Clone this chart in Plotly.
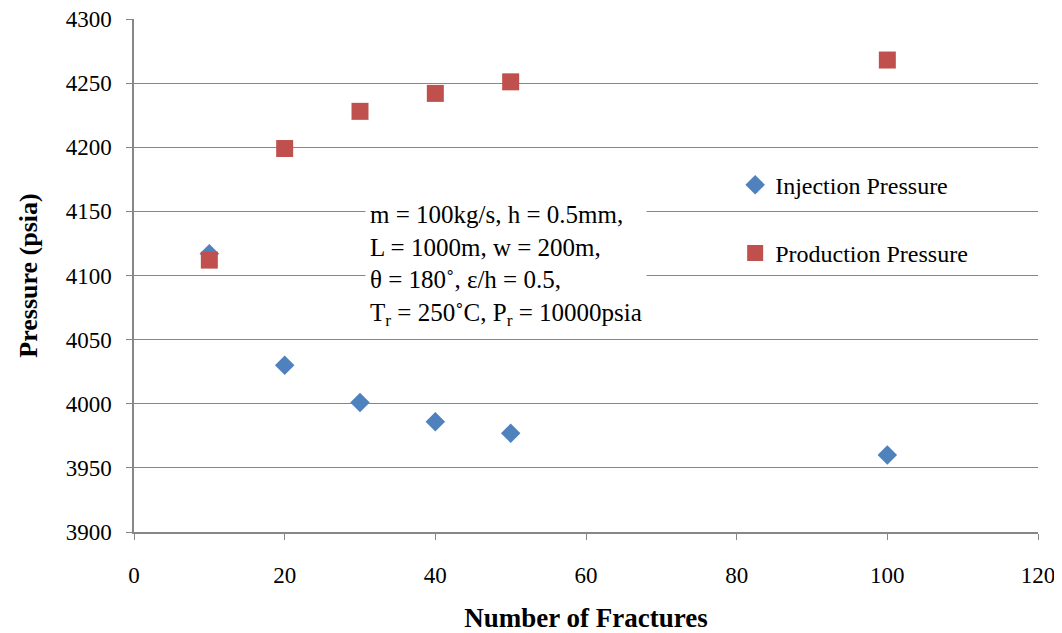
import plotly.graph_objects as go

fractures = [10, 20, 30, 40, 50, 100]
injection_pressure = [4117, 4030, 4001, 3986, 3977, 3960]
production_pressure = [4112, 4199, 4228, 4242, 4251, 4268]

x_ticks = [0, 20, 40, 60, 80, 100, 120]
y_ticks = [3900, 3950, 4000, 4050, 4100, 4150, 4200, 4250, 4300]

FONT = "Liberation Serif"
GRAY = "#878787"

fig = go.Figure()
fig.add_trace(go.Scatter(
    x=fractures, y=injection_pressure, mode="markers", name="Injection Pressure",
    legendgroup="a",
    marker=dict(symbol="diamond", size=15, color="#4F81BD", line=dict(width=0)),
))
fig.add_trace(go.Scatter(
    x=fractures, y=production_pressure, mode="markers", name="Production Pressure",
    legendgroup="b",
    marker=dict(symbol="square", size=17, color="#C0504D", line=dict(width=0)),
))

fig.add_annotation(
    x=0.255, y=0.655, xref="paper", yref="paper", xanchor="left", yanchor="top",
    align="left", showarrow=False, bgcolor="white", borderpad=4,
    text=("m = 100kg/s, h = 0.5mm,<br>L = 1000m, w = 200m,<br>"
          "θ = 180˚, ε/h = 0.5,<br>T<sub>r</sub> = 250˚C, P<sub>r</sub> = 10000psia"),
    font=dict(family=FONT, size=25, color="black"),
)

# page body has an 8px margin; figure is sized/offset to compensate
fig.update_layout(
    width=1054, height=625,
    margin=dict(l=126, r=24, t=11, b=101),
    paper_bgcolor="white", plot_bgcolor="white",
    font=dict(family=FONT, color="black"),
    showlegend=True,
    legend=dict(x=0.665, y=0.72, xanchor="left", yanchor="top",
                font=dict(family=FONT, size=24, color="black"),
                tracegroupgap=34, bgcolor="rgba(0,0,0,0)"),
    xaxis=dict(range=[0, 120], tickvals=x_ticks, showgrid=False, zeroline=False,
               showline=True, linecolor=GRAY, linewidth=1.5, automargin=False,
               ticks="outside", tickcolor=GRAY, ticklen=6, ticklabelstandoff=16,
               ticklabeloverflow="allow",
               tickfont=dict(family=FONT, size=23),
               title=dict(text="<b>Number of Fractures</b>", font=dict(family=FONT, size=27), standoff=27)),
    yaxis=dict(range=[3900, 4300], tickvals=y_ticks, showgrid=True, gridcolor=GRAY, gridwidth=1,
               zeroline=False, showline=True, linecolor=GRAY, linewidth=1.5, automargin=False,
               ticks="outside", tickcolor=GRAY, ticklen=6, ticklabelstandoff=10,
               ticklabeloverflow="allow",
               tickfont=dict(family=FONT, size=23),
               title=dict(text="<b>Pressure (psia)</b>", font=dict(family=FONT, size=26), standoff=21)),
)

fig.write_html("out.html")
